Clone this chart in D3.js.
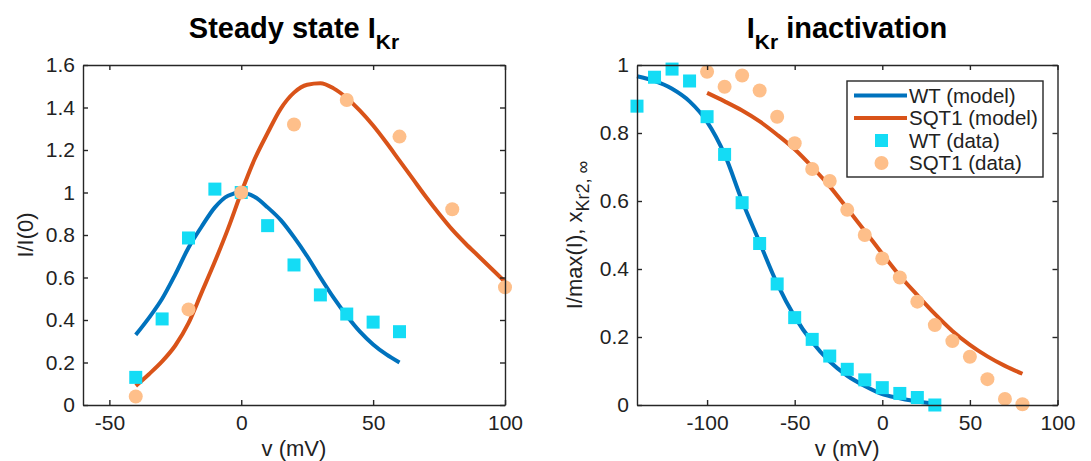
<!DOCTYPE html>
<html lang="en">
<head>
<meta charset="UTF-8">
<title>IKr steady state and inactivation</title>
<script src="https://cdn.jsdelivr.net/npm/d3@7/dist/d3.min.js"></script>
<style>
  body { margin: 0; background: #fff; }
  svg { font-family: "Liberation Sans", Arial, Helvetica, sans-serif; }
  .tick text { fill: #222; }
</style>
</head>
<body>
<script>
// ---- left panel: steady state I_Kr
const ssWtDataV = [-40, -30, -20, -10, 0, 10, 20, 30, 40, 50, 60]
const ssWtData = [0.13, 0.405, 0.786, 1.016, 1.0, 0.844, 0.659, 0.518, 0.428, 0.39, 0.345]
const ssSqtDataV = [-40, -20, 0, 20, 40, 60, 80, 100]
const ssSqtData = [0.04, 0.45, 1.0, 1.32, 1.435, 1.263, 0.921, 0.554]
const ssWtModelV = [-40, -35, -30, -25, -20, -15, -10, -5, 0, 5, 10, 15, 20, 25, 30, 35, 40, 45, 50, 55, 60]
const ssWtModel = [0.33, 0.41, 0.50, 0.615, 0.74, 0.84, 0.93, 0.985, 1.0, 0.98, 0.93, 0.87, 0.79, 0.70, 0.60, 0.505, 0.42, 0.345, 0.285, 0.238, 0.20]
const ssSqtModelV = [-40, -35, -30, -25, -20, -15, -10, -5, 0, 5, 10, 15, 20, 25, 30, 35, 40, 45, 50, 55, 60, 65, 70, 75, 80, 85, 90, 95, 100]
const ssSqtModel = [0.09, 0.145, 0.205, 0.28, 0.385, 0.53, 0.675, 0.83, 1.0, 1.155, 1.28, 1.395, 1.47, 1.507, 1.514, 1.49, 1.445, 1.385, 1.315, 1.235, 1.15, 1.065, 0.98, 0.90, 0.825, 0.76, 0.70, 0.64, 0.58]
const ssXTicks = [-50, 0, 50, 100]
const ssYTicks = [0, 0.2, 0.4, 0.6, 0.8, 1, 1.2, 1.4, 1.6]

// ---- right panel: I_Kr inactivation
const inWtDataV = [-140, -130, -120, -110, -100, -90, -80, -70, -60, -50, -40, -30, -20, -10, 0, 10, 20, 30]
const inWtData = [0.879, 0.964, 0.988, 0.953, 0.848, 0.737, 0.595, 0.475, 0.356, 0.257, 0.193, 0.144, 0.105, 0.074, 0.051, 0.034, 0.022, 0.0]
const inSqtDataV = [-100, -90, -80, -70, -60, -50, -40, -30, -20, -10, 0, 10, 20, 30, 40, 50, 60, 70, 80]
const inSqtData = [0.98, 0.936, 0.969, 0.925, 0.848, 0.770, 0.694, 0.659, 0.574, 0.50, 0.431, 0.375, 0.304, 0.235, 0.188, 0.142, 0.076, 0.018, 0.002]
const inWtModelV = [-140, -130, -120, -110, -100, -90, -80, -70, -60, -50, -40, -30, -20, -10, 0, 10, 20, 30]
const inWtModel = [0.967, 0.953, 0.93, 0.893, 0.833, 0.737, 0.60, 0.478, 0.357, 0.26, 0.185, 0.128, 0.086, 0.056, 0.032, 0.02, 0.01, 0.004]
const inSqtModelV = [-100, -90, -80, -70, -60, -50, -40, -30, -20, -10, 0, 10, 20, 30, 40, 50, 60, 70, 80]
const inSqtModel = [0.918, 0.893, 0.866, 0.834, 0.795, 0.752, 0.70, 0.643, 0.578, 0.512, 0.445, 0.38, 0.323, 0.268, 0.218, 0.177, 0.143, 0.115, 0.092]
const inXTicks = [-100, -50, 0, 50, 100]
const inYTicks = [0, 0.2, 0.4, 0.6, 0.8, 1]

const legendLabels = ["WT (model)", "SQT1 (model)", "WT (data)", "SQT1 (data)"]

const blue = "#0072BD", orange = "#D95319", cyan = "#14DCF5", peach = "#FEBF8A"
const axisColor = "#262626"

const svg = d3.select("body").append("svg")
  .attr("width", 1091).attr("height", 461)

function zip(xs, ys) { return xs.map((x, i) => [x, ys[i]]) }

function panel(opt) {
  const x = d3.scaleLinear().domain(opt.xDomain).range([opt.left, opt.right])
  const y = d3.scaleLinear().domain(opt.yDomain).range([opt.bottom, opt.top])
  const g = svg.append("g")

  const line = d3.line().x(d => x(d[0])).y(d => y(d[1])).curve(d3.curveMonotoneX)
  g.append("path").datum(zip(opt.wtModelV, opt.wtModel))
    .attr("d", line).attr("fill", "none").attr("stroke", blue)
    .attr("stroke-width", 4).attr("stroke-linejoin", "round")
  g.append("path").datum(zip(opt.sqtModelV, opt.sqtModel))
    .attr("d", line).attr("fill", "none").attr("stroke", orange)
    .attr("stroke-width", 4).attr("stroke-linejoin", "round")

  g.selectAll("rect.wt").data(zip(opt.wtDataV, opt.wtData)).enter()
    .append("rect").attr("class", "wt")
    .attr("x", d => x(d[0]) - 6.5).attr("y", d => y(d[1]) - 6.5)
    .attr("width", 13).attr("height", 13).attr("fill", cyan)
  g.selectAll("circle.sqt").data(zip(opt.sqtDataV, opt.sqtData)).enter()
    .append("circle").attr("class", "sqt")
    .attr("cx", d => x(d[0])).attr("cy", d => y(d[1]))
    .attr("r", 7).attr("fill", peach)

  // box and inward ticks on all sides
  const fmt = d => String(+d.toFixed(1))
  const ax = [
    [d3.axisBottom(x).tickValues(opt.xTicks).tickFormat(fmt).tickSizeInner(-5).tickSizeOuter(0).tickPadding(10), `translate(0,${opt.bottom})`],
    [d3.axisTop(x).tickValues(opt.xTicks).tickFormat("").tickSizeInner(-5).tickSizeOuter(0), `translate(0,${opt.top})`],
    [d3.axisLeft(y).tickValues(opt.yTicks).tickFormat(fmt).tickSizeInner(-5).tickSizeOuter(0).tickPadding(8), `translate(${opt.left},0)`],
    [d3.axisRight(y).tickValues(opt.yTicks).tickFormat("").tickSizeInner(-5).tickSizeOuter(0), `translate(${opt.right},0)`]
  ]
  ax.forEach(a => {
    const s = g.append("g").attr("transform", a[1]).call(a[0])
    s.selectAll("path, line").attr("stroke", axisColor).attr("stroke-width", 1.4)
    s.selectAll("text").style("font-size", "21px").attr("fill", "#222")
    s.attr("font-family", null).attr("font-size", null)
  })

  // x label
  g.append("text").attr("x", (opt.left + opt.right) / 2).attr("y", 456)
    .attr("text-anchor", "middle").style("font-size", "22px").attr("fill", "#222")
    .text("v (mV)")
  return { x, y, g }
}

const p1 = panel({
  left: 83, right: 505, top: 65, bottom: 405,
  xDomain: [-60, 100], yDomain: [0, 1.6], xTicks: ssXTicks, yTicks: ssYTicks,
  wtModelV: ssWtModelV, wtModel: ssWtModel, sqtModelV: ssSqtModelV, sqtModel: ssSqtModel,
  wtDataV: ssWtDataV, wtData: ssWtData, sqtDataV: ssSqtDataV, sqtData: ssSqtData
})
const p2 = panel({
  left: 637, right: 1057.5, top: 65, bottom: 405,
  xDomain: [-140, 100], yDomain: [0, 1], xTicks: inXTicks, yTicks: inYTicks,
  wtModelV: inWtModelV, wtModel: inWtModel, sqtModelV: inSqtModelV, sqtModel: inSqtModel,
  wtDataV: inWtDataV, wtData: inWtData, sqtDataV: inSqtDataV, sqtData: inSqtData
})

// titles
const t1 = svg.append("text").attr("x", 294).attr("y", 38).attr("text-anchor", "middle")
  .style("font-weight", "bold").style("font-size", "29px").attr("fill", "#000")
t1.append("tspan").text("Steady state I")
t1.append("tspan").attr("dy", 11).style("font-size", "21px").text("Kr")

const t2 = svg.append("text").attr("x", 847).attr("y", 38).attr("text-anchor", "middle")
  .style("font-weight", "bold").style("font-size", "29px").attr("fill", "#000")
t2.append("tspan").text("I")
t2.append("tspan").attr("dy", 11).style("font-size", "21px").text("Kr")
t2.append("tspan").attr("dy", -11).text(" inactivation")

// y labels
svg.append("text").attr("transform", "translate(33,235) rotate(-90)")
  .attr("text-anchor", "middle").style("font-size", "22px").attr("fill", "#222")
  .text("I/I(0)")
const yl2 = svg.append("text").attr("transform", "translate(582,235) rotate(-90)")
  .attr("text-anchor", "middle").style("font-size", "22px").attr("fill", "#222")
yl2.append("tspan").text("I/max(I), x")
yl2.append("tspan").attr("dy", 7).style("font-size", "18px").text("Kr2, \u221E")

// legend
const lg = svg.append("g")
lg.append("rect").attr("x", 847).attr("y", 81).attr("width", 196).attr("height", 96)
  .attr("fill", "#fff").attr("stroke", axisColor).attr("stroke-width", 1.4)
const rowY = [95.5, 118, 140.5, 163]
legendLabels.forEach((name, i) => {
  const cy = rowY[i]
  if (i === 0 || i === 1) {
    lg.append("line").attr("x1", 854).attr("x2", 907).attr("y1", cy).attr("y2", cy)
      .attr("stroke", i === 0 ? blue : orange).attr("stroke-width", 4)
  } else if (i === 2) {
    lg.append("rect").attr("x", 881.5 - 6.5).attr("y", cy - 6.5).attr("width", 13).attr("height", 13).attr("fill", cyan)
  } else {
    lg.append("circle").attr("cx", 881.5).attr("cy", cy).attr("r", 7).attr("fill", peach)
  }
  lg.append("text").attr("x", 909).attr("y", cy).attr("dy", "0.35em")
    .style("font-size", "20.5px").attr("fill", "#222").text(name)
})
</script>
</body>
</html>
